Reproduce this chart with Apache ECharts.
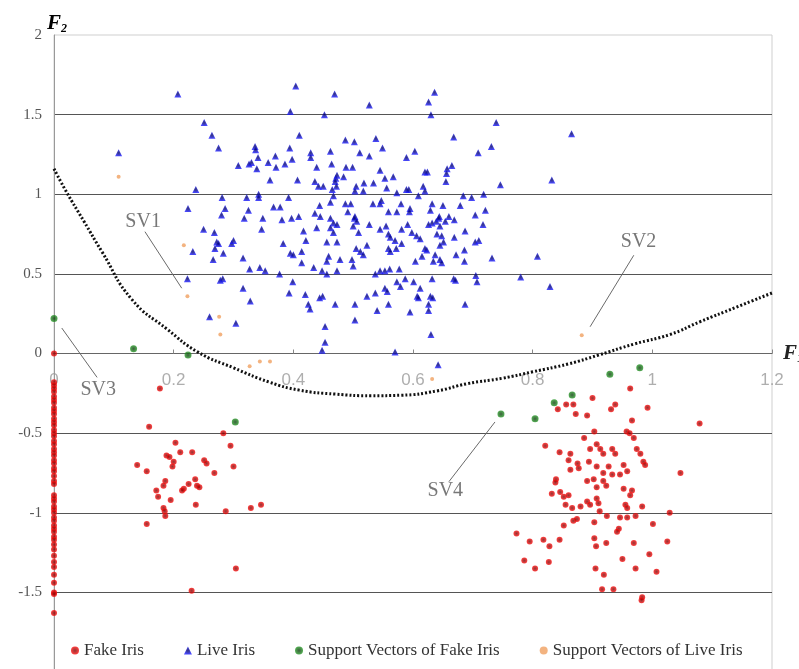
<!DOCTYPE html>
<html>
<head>
<meta charset="utf-8">
<script src="https://cdn.jsdelivr.net/npm/echarts@6/dist/echarts.min.js"></script>
<style>
  html, body { margin: 0; padding: 0; background: #fff; }
  #chart { width: 799px; height: 669px; }
</style>
</head>
<body>
<div id="chart"></div>
<script>
// F1 / F2 pairs
const fakeIris = [
  // column at F1 = 0
  [0, 0.0], [0, -0.18], [0, -0.2], [0, -0.22], [0, -0.24], [0, -0.27], [0, -0.29], [0, -0.31],
  [0, -0.34], [0, -0.36], [0, -0.38], [0, -0.41], [0, -0.43], [0, -0.45], [0, -0.48], [0, -0.5],
  [0, -0.52], [0, -0.55], [0, -0.57], [0, -0.6], [0, -0.62], [0, -0.64], [0, -0.67], [0, -0.69],
  [0, -0.72], [0, -0.74], [0, -0.77], [0, -0.8], [0, -0.82], [0, -0.89], [0, -0.91], [0, -0.93],
  [0, -0.96], [0, -0.98], [0, -1.0], [0, -1.03], [0, -1.05], [0, -1.08], [0, -1.1], [0, -1.12],
  [0, -1.15], [0, -1.17], [0, -1.2], [0, -1.23], [0, -1.27], [0, -1.31], [0, -1.34], [0, -1.39],
  [0, -1.44], [0, -1.5], [0, -1.51], [0, -1.63],
  // left cluster
  [0.177, -0.22], [0.159, -0.46], [0.283, -0.50], [0.295, -0.58], [0.30, -0.71], [0.203, -0.56],
  [0.188, -0.64], [0.193, -0.65], [0.20, -0.68], [0.198, -0.71], [0.211, -0.62], [0.231, -0.62],
  [0.139, -0.70], [0.155, -0.74], [0.251, -0.67], [0.255, -0.69], [0.268, -0.75], [0.186, -0.80],
  [0.183, -0.83], [0.171, -0.86], [0.174, -0.90], [0.236, -0.79], [0.239, -0.83], [0.243, -0.84],
  [0.225, -0.82], [0.217, -0.85], [0.214, -0.86], [0.195, -0.92], [0.183, -0.97], [0.185, -0.99],
  [0.186, -1.02], [0.237, -0.95], [0.287, -0.99], [0.329, -0.97], [0.346, -0.95], [0.155, -1.07],
  [0.304, -1.35], [0.23, -1.49],
  // right cluster
  [0.963, -0.22], [0.992, -0.34], [0.90, -0.28], [0.931, -0.35], [0.938, -0.32], [0.856, -0.32],
  [0.868, -0.32], [0.842, -0.35], [0.872, -0.38], [0.891, -0.39], [0.966, -0.42], [1.079, -0.44],
  [0.903, -0.49], [0.957, -0.49], [0.962, -0.50], [0.886, -0.53], [0.969, -0.53], [0.821, -0.58],
  [0.896, -0.60], [0.907, -0.57], [0.913, -0.60], [0.918, -0.63], [0.933, -0.60], [0.938, -0.63],
  [0.974, -0.60], [0.98, -0.63], [0.845, -0.62], [0.863, -0.63], [0.86, -0.67], [0.875, -0.69],
  [0.894, -0.68], [0.907, -0.71], [0.927, -0.71], [0.952, -0.70], [0.958, -0.74], [0.985, -0.68],
  [0.988, -0.70], [0.863, -0.73], [0.877, -0.72], [0.918, -0.75], [0.933, -0.76], [0.946, -0.76],
  [1.047, -0.75], [0.839, -0.79], [0.891, -0.80], [0.902, -0.79], [0.838, -0.81], [0.918, -0.80],
  [0.923, -0.83], [0.907, -0.84], [0.952, -0.85], [0.966, -0.86], [0.963, -0.89], [0.832, -0.88],
  [0.846, -0.87], [0.852, -0.90], [0.86, -0.89], [0.855, -0.95], [0.866, -0.97], [0.88, -0.96],
  [0.891, -0.93], [0.896, -0.95], [0.907, -0.91], [0.91, -0.94], [0.912, -0.99], [0.924, -1.02],
  [0.955, -0.95], [0.958, -0.97], [0.946, -1.03], [0.958, -1.03], [0.972, -1.02], [0.983, -0.96],
  [1.029, -1.00], [0.868, -1.05], [0.874, -1.04], [0.852, -1.08], [0.903, -1.06], [0.944, -1.10],
  [0.941, -1.12], [1.001, -1.07], [0.773, -1.13], [0.795, -1.18], [0.818, -1.17], [0.828, -1.21],
  [0.845, -1.17], [0.903, -1.16], [0.906, -1.21], [0.923, -1.19], [0.969, -1.19], [1.025, -1.18],
  [0.786, -1.30], [0.804, -1.35], [0.827, -1.31], [0.905, -1.35], [0.919, -1.39], [0.95, -1.29],
  [0.972, -1.35], [0.995, -1.26], [1.007, -1.37], [0.916, -1.48], [0.935, -1.48], [0.983, -1.53],
  [0.982, -1.55]
]

const liveIris = [
  [0.207, 1.63], [0.404, 1.68], [0.469, 1.63], [0.395, 1.52], [0.452, 1.50], [0.251, 1.45],
  [0.264, 1.37], [0.275, 1.29], [0.410, 1.37], [0.108, 1.26], [0.336, 1.30], [0.337, 1.28],
  [0.394, 1.29], [0.429, 1.26], [0.429, 1.23], [0.462, 1.27], [0.308, 1.18], [0.326, 1.19],
  [0.33, 1.20], [0.341, 1.23], [0.358, 1.20], [0.370, 1.24], [0.371, 1.17], [0.386, 1.19],
  [0.398, 1.22], [0.339, 1.16], [0.439, 1.17], [0.464, 1.19], [0.361, 1.09], [0.407, 1.09],
  [0.436, 1.08], [0.471, 1.10], [0.442, 1.05], [0.45, 1.05], [0.465, 1.03], [0.237, 1.03],
  [0.281, 0.98], [0.322, 0.98], [0.342, 1.00], [0.342, 0.98], [0.392, 0.98], [0.224, 0.91],
  [0.286, 0.91], [0.325, 0.90], [0.367, 0.92], [0.378, 0.92], [0.444, 0.93], [0.462, 0.95],
  [0.527, 1.56], [0.636, 1.64], [0.626, 1.58], [0.630, 1.50], [0.739, 1.45], [0.865, 1.38],
  [0.487, 1.34], [0.502, 1.33], [0.538, 1.35], [0.549, 1.29], [0.668, 1.36], [0.731, 1.30],
  [0.709, 1.26], [0.511, 1.26], [0.527, 1.24], [0.603, 1.27], [0.589, 1.23], [0.488, 1.17],
  [0.499, 1.17], [0.545, 1.15], [0.620, 1.14], [0.624, 1.14], [0.657, 1.16], [0.665, 1.18],
  [0.656, 1.13], [0.655, 1.08], [0.832, 1.09], [0.746, 1.06], [0.473, 1.12], [0.484, 1.11],
  [0.47, 1.08], [0.505, 1.05], [0.518, 1.07], [0.534, 1.07], [0.553, 1.10], [0.567, 1.11],
  [0.556, 1.04], [0.573, 1.01], [0.589, 1.03], [0.593, 1.03], [0.617, 1.05], [0.620, 1.02],
  [0.609, 0.99], [0.503, 1.02], [0.517, 1.02], [0.472, 1.05], [0.684, 0.99], [0.698, 0.98],
  [0.718, 1.00], [0.487, 0.94], [0.496, 0.94], [0.533, 0.94], [0.545, 0.94], [0.547, 0.96],
  [0.580, 0.94], [0.595, 0.91], [0.632, 0.94], [0.65, 0.93], [0.679, 0.93], [0.629, 0.90],
  [0.721, 0.90], [0.704, 0.87], [0.559, 0.89], [0.573, 0.89], [0.491, 0.89], [0.503, 0.86],
  [0.644, 0.86], [0.66, 0.86], [0.318, 0.85], [0.349, 0.85], [0.381, 0.84], [0.397, 0.85],
  [0.409, 0.86], [0.436, 0.88], [0.445, 0.86], [0.462, 0.85], [0.467, 0.82], [0.250, 0.78],
  [0.268, 0.76], [0.272, 0.70], [0.275, 0.69], [0.269, 0.66], [0.283, 0.63], [0.297, 0.69],
  [0.30, 0.71], [0.232, 0.64], [0.266, 0.59], [0.316, 0.60], [0.347, 0.78], [0.383, 0.69],
  [0.417, 0.77], [0.421, 0.71], [0.395, 0.63], [0.40, 0.62], [0.414, 0.64], [0.439, 0.79],
  [0.462, 0.79], [0.467, 0.76], [0.456, 0.70], [0.473, 0.70], [0.459, 0.61], [0.456, 0.58],
  [0.414, 0.57], [0.434, 0.54], [0.327, 0.53], [0.344, 0.54], [0.353, 0.52], [0.377, 0.50],
  [0.448, 0.52], [0.456, 0.50], [0.223, 0.47], [0.278, 0.46], [0.282, 0.47], [0.316, 0.41],
  [0.328, 0.33], [0.399, 0.45], [0.393, 0.38], [0.42, 0.37], [0.425, 0.31], [0.428, 0.28],
  [0.444, 0.35], [0.449, 0.36], [0.47, 0.31], [0.26, 0.23], [0.304, 0.19], [0.453, 0.17],
  [0.453, 0.07], [0.448, 0.02], [0.594, 0.89], [0.717, 0.81], [0.687, 0.77], [0.669, 0.73],
  [0.704, 0.70], [0.71, 0.71], [0.686, 0.65], [0.672, 0.62], [0.686, 0.58], [0.732, 0.60],
  [0.808, 0.61], [0.473, 0.81], [0.502, 0.85], [0.506, 0.83], [0.50, 0.80], [0.509, 0.76],
  [0.527, 0.81], [0.545, 0.78], [0.555, 0.80], [0.559, 0.75], [0.562, 0.73], [0.581, 0.78],
  [0.591, 0.81], [0.598, 0.76], [0.606, 0.74], [0.612, 0.72], [0.626, 0.81], [0.632, 0.82],
  [0.639, 0.83], [0.643, 0.85], [0.645, 0.80], [0.654, 0.83], [0.669, 0.84], [0.64, 0.75],
  [0.648, 0.74], [0.651, 0.70], [0.645, 0.68], [0.505, 0.66], [0.512, 0.64], [0.517, 0.62],
  [0.523, 0.68], [0.478, 0.59], [0.498, 0.59], [0.50, 0.55], [0.559, 0.66], [0.562, 0.64],
  [0.572, 0.66], [0.581, 0.69], [0.570, 0.71], [0.604, 0.58], [0.615, 0.61], [0.623, 0.65],
  [0.62, 0.66], [0.634, 0.58], [0.637, 0.62], [0.645, 0.59], [0.648, 0.57], [0.473, 0.52],
  [0.537, 0.50], [0.545, 0.52], [0.553, 0.52], [0.561, 0.53], [0.577, 0.53], [0.573, 0.45],
  [0.579, 0.42], [0.587, 0.47], [0.601, 0.45], [0.612, 0.41], [0.632, 0.47], [0.668, 0.47],
  [0.671, 0.46], [0.705, 0.49], [0.707, 0.45], [0.780, 0.48], [0.829, 0.42], [0.523, 0.36],
  [0.537, 0.38], [0.553, 0.41], [0.557, 0.39], [0.503, 0.31], [0.559, 0.31], [0.607, 0.36],
  [0.609, 0.35], [0.629, 0.36], [0.633, 0.35], [0.626, 0.31], [0.626, 0.27], [0.687, 0.31],
  [0.54, 0.27], [0.595, 0.26], [0.503, 0.21], [0.63, 0.12], [0.570, 0.01], [0.642, -0.07],
  [0.467, 0.99], [0.28, 0.87]
]

const svFake = [
  [0, 0.22], [0.133, 0.03], [0.224, -0.01], [0.303, -0.43], [0.747, -0.38], [0.804, -0.41],
  [0.836, -0.31], [0.866, -0.26], [0.929, -0.13], [0.979, -0.09]
]

const svLive = [
  [0.108, 1.11], [0.217, 0.68], [0.223, 0.36], [0.276, 0.23], [0.278, 0.12], [0.327, -0.08],
  [0.344, -0.05], [0.361, -0.05], [0.632, -0.16], [0.882, 0.115]
]

// decision boundary, read point by point
const boundaryX = [0, 0.02, 0.05, 0.08, 0.13, 0.19, 0.24, 0.30, 0.36, 0.41, 0.47, 0.53,
  0.58, 0.64, 0.69, 0.75, 0.80, 0.86, 0.91, 0.97, 1.03, 1.08, 1.14, 1.20]
const boundaryY = [1.16, 1.02, 0.83, 0.64, 0.34, 0.15, 0.01, -0.09, -0.18, -0.23, -0.255, -0.265,
  -0.262, -0.235, -0.19, -0.155, -0.115, -0.065, -0.01, 0.06, 0.12, 0.2, 0.29, 0.38]

// annotations: label spot, arrow start, arrow end
const svNames = ['SV1', 'SV2', 'SV3', 'SV4']
const svLabelAt = [[0.149, 0.83], [0.977, 0.70], [0.074, -0.226], [0.654, -0.86]]
const svArrowFrom = [[0.152, 0.765], [0.969, 0.617], [0.072, -0.15], [0.66, -0.805]]
const svArrowTo = [[0.2135, 0.41], [0.896, 0.168], [0.013, 0.16], [0.737, -0.43]]

const xTicks = [0, 0.2, 0.4, 0.6, 0.8, 1, 1.2]
const yTicks = [-1.5, -1, -0.5, 0, 0.5, 1, 1.5, 2]

const serif = 'Liberation Serif'

function radial(inner, outer) {
  return new echarts.graphic.RadialGradient(0.5, 0.5, 0.5, [
    { offset: 0, color: inner },
    { offset: 1, color: outer }
  ])
}

const nameRich = {
  f: { fontFamily: serif, fontStyle: 'italic', fontWeight: 'bold', fontSize: 21, color: '#222' },
  s: { fontFamily: serif, fontStyle: 'italic', fontWeight: 'bold', fontSize: 12, color: '#222', padding: [10, 0, 0, 0] }
}

const chart = echarts.init(document.getElementById('chart'))

const option = {
  animation: false,
  backgroundColor: '#fff',
  grid: {
    left: 54,
    right: 27,
    top: 35,
    bottom: -3,
    containLabel: false,
    outerBoundsMode: 'none',
    show: true,
    borderColor: '#cfcfcf',
    borderWidth: 1
  },
  // F2 axis title, sitting just over the top of the vertical axis
  graphic: [
    {
      type: 'text',
      left: 47,
      top: 13,
      z: 10,
      style: { text: '{f|F}{s|2}', rich: nameRich }
    }
  ],
  legend: {
    data: ['Fake Iris', 'Live Iris', 'Support Vectors of Fake Iris', 'Support Vectors of Live Iris'],
    bottom: 5,
    left: 66,
    itemGap: 40,
    itemWidth: 8,
    itemHeight: 8,
    textStyle: { fontFamily: serif, fontSize: 17, color: '#333' }
  },
  xAxis: {
    type: 'value',
    min: 0,
    max: 1.2,
    interval: 0.2,
    name: '{f|F}{s|1}',
    nameLocation: 'end',
    nameGap: 11,
    nameTextStyle: { rich: nameRich },
    axisLine: { onZero: true, lineStyle: { color: '#666', width: 1.2 } },
    axisTick: { show: true, inside: true, length: 4, lineStyle: { color: '#888' } },
    axisLabel: { show: false },
    splitLine: { show: false }
  },
  yAxis: {
    type: 'value',
    min: -2,
    max: 2,
    interval: 0.5,
    axisLine: { show: true, onZero: false, lineStyle: { color: '#999' } },
    axisTick: { show: false },
    axisLabel: {
      margin: 12,
      color: '#555',
      fontFamily: serif,
      fontSize: 15,
      formatter: v => (yTicks.indexOf(+v.toFixed(1)) >= 0 ? String(+v.toFixed(1)) : '')
    },
    splitLine: {
      show: true,
      showMinLine: false,
      showMaxLine: false,
      lineStyle: { color: '#555', width: 1.2 }
    }
  },
  series: [
    {
      // tick labels that sit under the F1 = 0 line
      name: 'xTickLabels',
      type: 'scatter',
      silent: true,
      symbolSize: 0,
      data: xTicks.map(v => [v, 0]),
      label: {
        show: true,
        position: 'bottom',
        distance: 18,
        formatter: p => String(p.value[0]),
        fontFamily: 'Liberation Sans',
        fontSize: 17,
        color: '#9a9a9a'
      },
      z: 1
    },
    {
      name: 'Boundary',
      type: 'line',
      data: boundaryX.map((x, i) => [x, boundaryY[i]]),
      smooth: true,
      symbol: 'none',
      silent: true,
      lineStyle: { color: '#111', width: 3, type: [2, 2] },
      z: 2
    },
    {
      name: 'Fake Iris',
      type: 'scatter',
      data: fakeIris,
      symbol: 'circle',
      symbolSize: 6,
      itemStyle: { color: radial('#7a0000', '#ff1010') },
      z: 3
    },
    {
      name: 'Live Iris',
      type: 'scatter',
      data: liveIris,
      symbol: 'triangle',
      symbolSize: 7,
      itemStyle: { color: radial('#000060', '#1a1aff') },
      z: 3
    },
    {
      name: 'Support Vectors of Fake Iris',
      type: 'scatter',
      data: svFake,
      symbol: 'circle',
      symbolSize: 7,
      itemStyle: { color: radial('#0a3a0a', '#2a9a2a') },
      z: 4
    },
    {
      name: 'Support Vectors of Live Iris',
      type: 'scatter',
      data: svLive,
      symbol: 'circle',
      symbolSize: 4,
      itemStyle: { color: '#f0a060' },
      z: 4
    },
    {
      name: 'SV labels',
      type: 'scatter',
      silent: true,
      symbolSize: 0,
      data: svNames.map((n, i) => ({ name: n, value: svLabelAt[i] })),
      label: {
        show: true,
        position: 'inside',
        formatter: '{b}',
        fontFamily: serif,
        fontSize: 20,
        color: '#555'
      },
      markLine: {
        silent: true,
        symbol: ['none', 'arrow'],
        symbolSize: [0, 7],
        label: { show: false },
        lineStyle: { color: '#6a6a6a', width: 1, type: 'solid' },
        data: svNames.map((n, i) => [{ coord: svArrowFrom[i] }, { coord: svArrowTo[i] }])
      },
      z: 5
    }
  ]
}

chart.setOption(option)
</script>
</body>
</html>
